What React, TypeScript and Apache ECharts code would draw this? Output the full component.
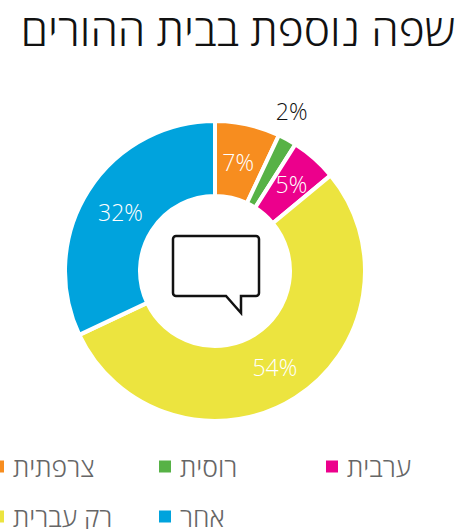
import React, { useEffect, useRef } from "react";
import * as echarts from "echarts";

const titleText = "שפה נוספת בבית ההורים";
const categories = ["צרפתית", "רוסית", "ערבית", "רק עברית", "אחר"];
const values = [7, 2, 5, 54, 32];
const colors = ["#F78D1F", "#57B246", "#EC008C", "#ECE43F", "#00A3DD"];
const labelColors = ["#fff", "#111", "#fff", "#fff", "#fff"];
const labelOffsets = [[-2, 4], [21, -59], [0, 0], [-2, -2], [3, 3]];
const legendLeft = [-8, 159, 326, -8, 159];
const legendTop = [453, 453, 453, 503, 503];
const FONT = "'Open Sans', 'Noto Sans', sans-serif";

const bubble = "M3 0H83A3 3 0 0 1 86 3V57A3 3 0 0 1 83 60H68V77L53 60H3A3 3 0 0 1 0 57V3A3 3 0 0 1 3 0Z";

export default function App() {
  const ref = useRef<HTMLDivElement>(null);
  useEffect(() => {
    document.body.style.margin = "0";
    echarts.graphic.registerShape("bubble", echarts.graphic.extendPath(bubble, {}));
    const chart = echarts.init(ref.current!, null, { renderer: "svg" });
    chart.setOption({
      animation: false,
      color: colors,
      title: {
        text: titleText,
        right: 5,
        top: 7,
        padding: 0,
        textStyle: { fontFamily: FONT, fontSize: 44.3, fontWeight: 300, color: "#111" },
      },
      legend: categories.map((name, i) => ({
        data: [name],
        left: legendLeft[i],
        top: legendTop[i],
        itemWidth: 12,
        itemHeight: 12,
        itemGap: 0,
        padding: 0,
        icon: "rect",
        selectedMode: false,
        itemStyle: { borderWidth: 0 },
        textStyle: { fontFamily: FONT, fontSize: 26.5, lineHeight: 22, fontWeight: 300, color: "#666", padding: [0, 0, 0, 4] },
      })),
      series: [
        {
          type: "pie",
          center: [215, 271],
          radius: [75, 150],
          startAngle: 90,
          clockwise: true,
          avoidLabelOverlap: false,
          itemStyle: { borderColor: "#fff", borderWidth: 4 },
          labelLine: { show: false },
          emphasis: { disabled: true },
          data: categories.map((name, i) => ({
            name,
            value: values[i],
            itemStyle: { color: colors[i] },
            label: {
              show: true,
              position: "inside",
              offset: labelOffsets[i],
              formatter: "{c}%",
              color: labelColors[i],
              fontFamily: FONT,
              fontSize: 23,
              fontWeight: 300,
            },
          })),
        },
      ],
      graphic: [
        {
          type: "bubble",
          x: 173,
          y: 236,
          silent: true,
          style: { fill: "none", stroke: "#111", lineWidth: 2.5 },
        },
      ],
    });
    return () => chart.dispose();
  }, []);
  return <div ref={ref} style={{ width: 460, height: 529 }} />;
}
